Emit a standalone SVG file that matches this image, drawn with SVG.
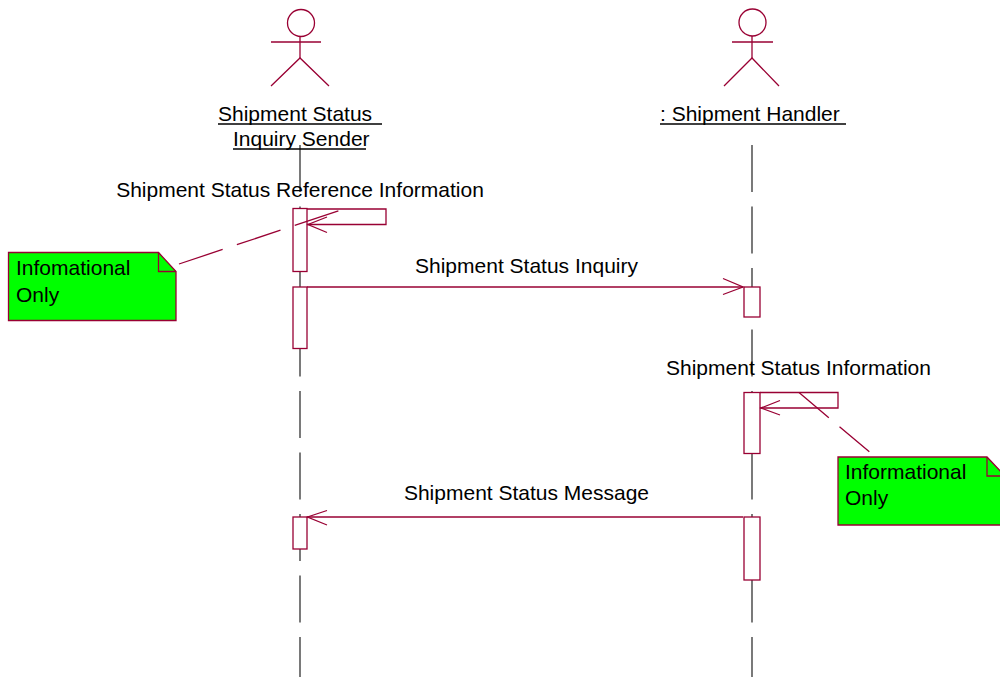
<svg xmlns="http://www.w3.org/2000/svg" width="1000" height="677" viewBox="0 0 1000 677">
<style>
text{font-family:"Liberation Sans",Arial,sans-serif;font-size:21px;fill:#000}
.life{stroke:#333;stroke-width:1.3;stroke-dasharray:47 14.5;fill:none}
.actor{stroke:#990033;stroke-width:1.3;fill:none}
.act{fill:#fff;stroke:#990033;stroke-width:1.3}
.msg{stroke:#990033;stroke-width:1.3;fill:none}
.note{fill:#00ff00;stroke:#990033;stroke-width:1.3}
.anchor{stroke:#990033;stroke-width:1.3;fill:none}
.ul{stroke:#000;stroke-width:1.6}
</style>
<rect width="1000" height="677" fill="#fff"/>
<g id="lifelines">
<line class="life" x1="300" y1="145" x2="300" y2="677"/>
<line class="life" x1="752" y1="145" x2="752" y2="677"/>
</g>
<g id="actor-sender">
<circle class="actor" cx="301" cy="23" r="13.5"/>
<line class="actor" x1="300" y1="36" x2="300" y2="58"/>
<line class="actor" x1="271" y1="42" x2="321" y2="42"/>
<polyline class="actor" points="271,86 300,58 329,86"/>
<text x="218" y="121">Shipment Status </text>
<line class="ul" x1="218" y1="124" x2="382" y2="124"/>
<text x="233" y="146">Inquiry Sender</text>
<line class="ul" x1="233" y1="149" x2="366" y2="149"/>
</g>
<g id="actor-handler">
<circle class="actor" cx="752.5" cy="22.5" r="13.5"/>
<line class="actor" x1="752" y1="36" x2="752" y2="58"/>
<line class="actor" x1="732" y1="42" x2="773" y2="42"/>
<polyline class="actor" points="724,86 752,58 779,86"/>
<text x="660" y="121">: Shipment Handler</text>
<line class="ul" x1="660" y1="124" x2="846" y2="124"/>
</g>
<g id="activations">
<rect class="act" x="293" y="208.5" width="14" height="63"/>
<rect class="act" x="293" y="287" width="14" height="61.5"/>
<rect class="act" x="744" y="287" width="16" height="30"/>
<rect class="act" x="744" y="392.5" width="16" height="61"/>
<rect class="act" x="293" y="517" width="14" height="32"/>
<rect class="act" x="744" y="517" width="16" height="63"/>
</g>
<g id="connectors">
<polyline class="msg" points="307,209 386,209 386,224.5 307,224.5"/>
<polyline class="msg" points="327,217 308,224.5 327,232.5"/>
<line class="msg" x1="307" y1="287" x2="743" y2="287"/>
<polyline class="msg" points="723,278.5 743,287 723,294.5"/>
<polyline class="msg" points="760,392.5 838,392.5 838,408 760,408"/>
<polyline class="msg" points="780,400.5 761,408 780,415"/>
<line class="msg" x1="743" y1="517" x2="307" y2="517"/>
<polyline class="msg" points="327,510.5 307.5,517 327,525"/>
<line class="anchor" x1="179" y1="264" x2="339.5" y2="210.5" stroke-dasharray="46 15"/>
<line class="anchor" x1="799" y1="392.5" x2="875.5" y2="457" stroke-dasharray="39 14"/>
</g>
<g id="labels">
<text x="300" y="197" text-anchor="middle">Shipment Status Reference Information</text>
<text x="526.5" y="273" text-anchor="middle">Shipment Status Inquiry</text>
<text x="798.5" y="375" text-anchor="middle">Shipment Status Information</text>
<text x="526.5" y="500" text-anchor="middle">Shipment Status Message</text>
</g>
<g id="note1">
<polygon class="note" points="8.5,252.5 158.5,252.5 176,271.5 176,320.5 8.5,320.5"/>
<polyline class="anchor" points="158.5,252.5 158.5,271.5 176,271.5"/>
<text x="16" y="275">Infomational</text>
<text x="16" y="301.5">Only</text>
</g>
<g id="note2">
<polygon class="note" points="838,457 987,457 1005,476 1005,525 838,525"/>
<polyline class="anchor" points="987,457 987,476 1005,476"/>
<text x="845" y="479">Informational</text>
<text x="845" y="505">Only</text>
</g>
</svg>
